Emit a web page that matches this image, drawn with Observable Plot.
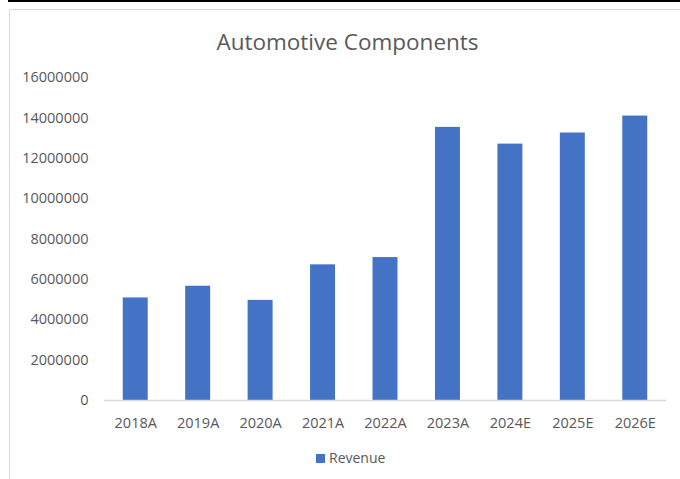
<!DOCTYPE html>
<html>
<head>
<meta charset="utf-8">
<script src="https://cdn.jsdelivr.net/npm/d3@7"></script>
<script src="https://cdn.jsdelivr.net/npm/@observablehq/plot@0.6"></script>
<style>
  html, body { margin: 0; padding: 0; background: #fff; }
  #wrap { position: relative; width: 680px; height: 479px; overflow: hidden; font-family: "Open Sans", sans-serif; color: #595959; }
  #topline { position: absolute; left: 8px; right: 0; top: 0; height: 2px; background: #000; }
  #frame { position: absolute; left: 9px; top: 9px; width: 700px; height: 500px; border-left: 1.5px solid #d9d9d9; border-top: 1.5px solid #d9d9d9; }
  #title { position: absolute; left: 0; width: 695px; top: 31px; font-size: 22.5px; line-height: 22px; text-align: center; white-space: nowrap; }
  #chart { position: absolute; left: 0; top: 60px; }
  #legend { position: absolute; left: 316px; top: 450px; font-size: 14px; line-height: 16px; display: flex; align-items: center; white-space: nowrap; }
  #legend .sw { width: 9px; height: 9px; background: #4472C4; margin-right: 4px; }
</style>
</head>
<body>
<div id="wrap">
  <div id="topline"></div>
  <div id="frame"></div>
  <div id="title">Automotive Components</div>
  <div id="chart"></div>
  <div id="legend"><span class="sw"></span><span id="legendLabel"></span></div>
</div>
<script>
const categories = ["2018A", "2019A", "2020A", "2021A", "2022A", "2023A", "2024E", "2025E", "2026E"];
const revenue = [5080000, 5660000, 4960000, 6720000, 7080000, 13530000, 12700000, 13250000, 14090000];
const yTicks = [0, 2000000, 4000000, 6000000, 8000000, 10000000, 12000000, 14000000, 16000000];
const seriesName = "Revenue";

const data = categories.map((c, i) => ({category: c, value: revenue[i]}));

document.getElementById("legendLabel").textContent = seriesName;

const chart = Plot.plot({
  width: 680,
  height: 380,
  marginTop: 17,
  marginBottom: 40,
  marginLeft: 104,
  marginRight: 14,
  style: {fontFamily: "Open Sans, sans-serif", fontSize: "14.5px", color: "#595959", background: "transparent"},
  x: {domain: categories, paddingInner: 0.6, paddingOuter: 0.3, round: false, label: null},
  y: {domain: [0, 16000000], label: null},
  marks: [
    Plot.barY(data, {x: "category", y: "value", fill: "#4472C4"}),
    Plot.ruleY([0], {stroke: "#d9d9d9", strokeWidth: 1.5}),
    Plot.axisX({tickSize: 0, tickPadding: 17, label: null}),
    Plot.axisY({ticks: yTicks, tickSize: 0, tickPadding: 16, tickFormat: d3.format("d"), label: null})
  ]
});
document.getElementById("chart").appendChild(chart);
</script>
</body>
</html>
